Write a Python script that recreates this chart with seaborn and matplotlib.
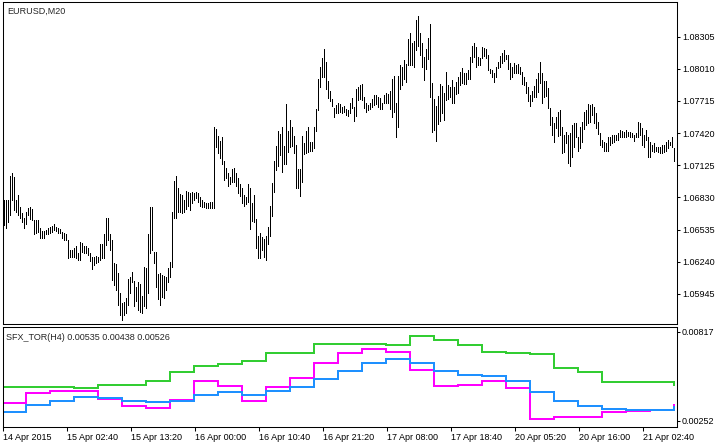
import numpy as np
import pandas as pd
import matplotlib
matplotlib.use('Agg')
import matplotlib.pyplot as plt
import seaborn as sns

sns.set_style('white')
plt.rcParams['font.family'] = ['Liberation Sans', 'DejaVu Sans']

# EURUSD M20 bars (high / low)
highs = [
    1.0681, 1.0681, 1.0681, 1.0703, 1.0705, 1.0702, 1.0681, 1.0685, 1.0674, 1.0669,
    1.0664, 1.0670, 1.0673, 1.0674, 1.0672, 1.0662, 1.0662, 1.0662, 1.0655, 1.0652,
    1.0652, 1.0653, 1.0655, 1.0656, 1.0657, 1.0659, 1.0656, 1.0655, 1.0654, 1.0651,
    1.0650, 1.0649, 1.0644, 1.0635, 1.0635, 1.0637, 1.0638, 1.0632, 1.0642, 1.0641,
    1.0638, 1.0638, 1.0637, 1.0632, 1.0628, 1.0628, 1.0629, 1.0628, 1.0640, 1.0640,
    1.0649, 1.0664, 1.0664, 1.0649, 1.0644, 1.0623, 1.0622, 1.0614, 1.0595, 1.0586,
    1.0587, 1.0591, 1.0608, 1.0610, 1.0615, 1.0606, 1.0601, 1.0605, 1.0604, 1.0593,
    1.0619, 1.0618, 1.0649, 1.0674, 1.0674, 1.0633, 1.0633, 1.0613, 1.0614, 1.0612,
    1.0611, 1.0610, 1.0618, 1.0624, 1.0670, 1.0698, 1.0703, 1.0692, 1.0686, 1.0685,
    1.0681, 1.0689, 1.0688, 1.0687, 1.0688, 1.0687, 1.0688, 1.0687, 1.0683, 1.0681,
    1.0679, 1.0678, 1.0678, 1.0679, 1.0679, 1.0748, 1.0746, 1.0739, 1.0735, 1.0738,
    1.0716, 1.0710, 1.0705, 1.0702, 1.0709, 1.0710, 1.0705, 1.0701, 1.0695, 1.0692,
    1.0685, 1.0683, 1.0695, 1.0692, 1.0678, 1.0685, 1.0663, 1.0648, 1.0650, 1.0647,
    1.0645, 1.0648, 1.0656, 1.0675, 1.0696, 1.0716, 1.0730, 1.0744, 1.0741, 1.0748,
    1.0730, 1.0769, 1.0744, 1.0754, 1.0748, 1.0739, 1.0731, 1.0709, 1.0709, 1.0739,
    1.0733, 1.0744, 1.0748, 1.0734, 1.0734, 1.0748, 1.0764, 1.0792, 1.0803, 1.0811,
    1.0819, 1.0807, 1.0790, 1.0781, 1.0773, 1.0765, 1.0768, 1.0770, 1.0769, 1.0766,
    1.0767, 1.0764, 1.0763, 1.0770, 1.0774, 1.0766, 1.0782, 1.0784, 1.0786, 1.0787,
    1.0775, 1.0770, 1.0768, 1.0770, 1.0773, 1.0777, 1.0777, 1.0775, 1.0774, 1.0770,
    1.0777, 1.0779, 1.0778, 1.0781, 1.0792, 1.0794, 1.0770, 1.0794, 1.0804, 1.0803,
    1.0809, 1.0805, 1.0828, 1.0834, 1.0825, 1.0826, 1.0846, 1.0849, 1.0834, 1.0825,
    1.0812, 1.0819, 1.0829, 1.0842, 1.0788, 1.0773, 1.0767, 1.0776, 1.0787, 1.0785,
    1.0779, 1.0798, 1.0786, 1.0784, 1.0791, 1.0784, 1.0789, 1.0793, 1.0798, 1.0802,
    1.0797, 1.0797, 1.0800, 1.0812, 1.0822, 1.0825, 1.0821, 1.0812, 1.0811, 1.0821,
    1.0820, 1.0819, 1.0814, 1.0801, 1.0800, 1.0797, 1.0803, 1.0807, 1.0813, 1.0815,
    1.0818, 1.0814, 1.0814, 1.0806, 1.0803, 1.0806, 1.0804, 1.0805, 1.0803, 1.0798,
    1.0793, 1.0789, 1.0784, 1.0777, 1.0781, 1.0785, 1.0792, 1.0797, 1.0807, 1.0797,
    1.0790, 1.0790, 1.0783, 1.0765, 1.0757, 1.0751, 1.0757, 1.0761, 1.0763, 1.0748,
    1.0740, 1.0743, 1.0740, 1.0742, 1.0749, 1.0751, 1.0751, 1.0738, 1.0748, 1.0752,
    1.0761, 1.0763, 1.0769, 1.0768, 1.0769, 1.0766, 1.0760, 1.0752, 1.0742, 1.0736,
    1.0734, 1.0733, 1.0738, 1.0738, 1.0740, 1.0740, 1.0740, 1.0742, 1.0745, 1.0744,
    1.0743, 1.0745, 1.0743, 1.0743, 1.0742, 1.0740, 1.0742, 1.0752, 1.0751, 1.0747,
    1.0740, 1.0745, 1.0738, 1.0734, 1.0731, 1.0733, 1.0729, 1.0729, 1.0729, 1.0731,
    1.0731, 1.0734, 1.0736, 1.0734, 1.0738, 1.0728,
]
lows = [
    1.0658, 1.0655, 1.0660, 1.0667, 1.0681, 1.0671, 1.0670, 1.0667, 1.0664, 1.0660,
    1.0655, 1.0659, 1.0667, 1.0663, 1.0662, 1.0649, 1.0650, 1.0651, 1.0646, 1.0646,
    1.0646, 1.0649, 1.0649, 1.0650, 1.0651, 1.0653, 1.0652, 1.0650, 1.0650, 1.0646,
    1.0644, 1.0644, 1.0627, 1.0628, 1.0628, 1.0628, 1.0627, 1.0626, 1.0626, 1.0633,
    1.0632, 1.0632, 1.0630, 1.0625, 1.0617, 1.0621, 1.0623, 1.0624, 1.0626, 1.0627,
    1.0627, 1.0639, 1.0644, 1.0635, 1.0607, 1.0603, 1.0598, 1.0584, 1.0575, 1.0571,
    1.0575, 1.0577, 1.0584, 1.0595, 1.0605, 1.0583, 1.0588, 1.0580, 1.0578, 1.0577,
    1.0583, 1.0582, 1.0595, 1.0632, 1.0635, 1.0623, 1.0601, 1.0590, 1.0584, 1.0592,
    1.0591, 1.0598, 1.0605, 1.0610, 1.0619, 1.0664, 1.0664, 1.0670, 1.0670, 1.0669,
    1.0670, 1.0672, 1.0675, 1.0671, 1.0678, 1.0681, 1.0682, 1.0679, 1.0675, 1.0674,
    1.0674, 1.0673, 1.0673, 1.0673, 1.0673, 1.0673, 1.0729, 1.0724, 1.0719, 1.0714,
    1.0699, 1.0701, 1.0693, 1.0695, 1.0697, 1.0697, 1.0693, 1.0687, 1.0684, 1.0678,
    1.0675, 1.0677, 1.0679, 1.0654, 1.0661, 1.0660, 1.0637, 1.0627, 1.0627, 1.0635,
    1.0628, 1.0626, 1.0640, 1.0648, 1.0666, 1.0688, 1.0708, 1.0712, 1.0722, 1.0706,
    1.0714, 1.0714, 1.0725, 1.0729, 1.0730, 1.0724, 1.0692, 1.0692, 1.0684, 1.0697,
    1.0723, 1.0724, 1.0725, 1.0726, 1.0726, 1.0728, 1.0744, 1.0763, 1.0784, 1.0793,
    1.0793, 1.0782, 1.0774, 1.0771, 1.0767, 1.0757, 1.0760, 1.0760, 1.0761, 1.0760,
    1.0761, 1.0759, 1.0758, 1.0760, 1.0765, 1.0753, 1.0758, 1.0772, 1.0773, 1.0772,
    1.0765, 1.0761, 1.0763, 1.0764, 1.0766, 1.0768, 1.0769, 1.0766, 1.0764, 1.0764,
    1.0770, 1.0770, 1.0770, 1.0764, 1.0757, 1.0761, 1.0738, 1.0748, 1.0782, 1.0786,
    1.0792, 1.0789, 1.0804, 1.0804, 1.0804, 1.0803, 1.0818, 1.0822, 1.0814, 1.0803,
    1.0791, 1.0801, 1.0810, 1.0775, 1.0743, 1.0745, 1.0735, 1.0750, 1.0753, 1.0760,
    1.0754, 1.0772, 1.0773, 1.0775, 1.0770, 1.0770, 1.0778, 1.0779, 1.0786, 1.0788,
    1.0787, 1.0787, 1.0792, 1.0792, 1.0807, 1.0812, 1.0803, 1.0804, 1.0804, 1.0811,
    1.0813, 1.0811, 1.0800, 1.0797, 1.0793, 1.0789, 1.0793, 1.0802, 1.0803, 1.0806,
    1.0808, 1.0810, 1.0801, 1.0792, 1.0793, 1.0797, 1.0797, 1.0797, 1.0796, 1.0787,
    1.0786, 1.0779, 1.0771, 1.0767, 1.0771, 1.0775, 1.0775, 1.0780, 1.0788, 1.0770,
    1.0775, 1.0776, 1.0765, 1.0749, 1.0740, 1.0734, 1.0747, 1.0739, 1.0740, 1.0724,
    1.0725, 1.0733, 1.0715, 1.0712, 1.0720, 1.0729, 1.0738, 1.0726, 1.0728, 1.0734,
    1.0746, 1.0749, 1.0751, 1.0752, 1.0759, 1.0751, 1.0747, 1.0741, 1.0731, 1.0729,
    1.0726, 1.0726, 1.0726, 1.0731, 1.0733, 1.0734, 1.0736, 1.0736, 1.0738, 1.0738,
    1.0738, 1.0738, 1.0739, 1.0738, 1.0738, 1.0735, 1.0738, 1.0738, 1.0740, 1.0731,
    1.0729, 1.0736, 1.0720, 1.0720, 1.0726, 1.0725, 1.0726, 1.0725, 1.0724, 1.0724,
    1.0725, 1.0726, 1.0728, 1.0731, 1.0729, 1.0716,
]

# SFX_TOR(H4) buffers, one value per H4 bar
sfx_green = [0.00470, 0.00470, 0.00470, 0.00459, 0.00481, 0.00481, 0.00506, 0.00565,
             0.00603, 0.00616, 0.00635, 0.00682, 0.00682, 0.00739, 0.00739, 0.00741,
             0.00737, 0.00794, 0.00768, 0.00735, 0.00692, 0.00686, 0.00675, 0.00591,
             0.00565, 0.00502, 0.00498, 0.00498, 0.00481]
sfx_magenta = [0.00368, 0.00432, 0.00445, 0.00445, 0.00392, 0.00347, 0.00337, 0.00385,
               0.00508, 0.00476, 0.00381, 0.00470, 0.00527, 0.00618, 0.00686, 0.00709,
               0.00692, 0.00576, 0.00474, 0.00481, 0.00506, 0.00464, 0.00265, 0.00275,
               0.00275, 0.00307, 0.00313, 0.00320, 0.00354]
sfx_blue = [0.00311, 0.00354, 0.00381, 0.00407, 0.00400, 0.00381, 0.00371, 0.00379,
            0.00417, 0.00438, 0.00417, 0.00443, 0.00470, 0.00517, 0.00572, 0.00618,
            0.00644, 0.00622, 0.00570, 0.00544, 0.00538, 0.00506, 0.00434, 0.00381,
            0.00349, 0.00328, 0.00322, 0.00322, 0.00339]

price_ticks = [1.05945, 1.06240, 1.06535, 1.06830, 1.07125, 1.07420, 1.07715, 1.08010, 1.08305]
sfx_ticks = [0.00252, 0.00817]
time_labels = ['14 Apr 2015', '15 Apr 02:40', '15 Apr 13:20', '16 Apr 00:00', '16 Apr 10:40',
               '16 Apr 21:20', '17 Apr 08:00', '17 Apr 18:40', '20 Apr 05:20', '20 Apr 16:00',
               '21 Apr 02:40']

W, H = 726, 444
fig = plt.figure(figsize=(W / 100, H / 100), dpi=100)
fig.patch.set_facecolor('white')
ax = fig.add_axes([2.5 / W, 1 - 324 / H, 674.5 / W, 322 / H])
ax2 = fig.add_axes([2.5 / W, 1 - 427 / H, 674.5 / W, 100 / H])

n = len(highs)
idx = np.arange(n)

# price bars, 1 px wide
ax.vlines(idx, lows, highs, colors='black', linewidth=0.6, antialiased=False)

# indicator, H4 value repeated over its M20 bars
h4 = (idx + 1) // 12
names = ['green', 'magenta', 'blue']
df = pd.DataFrame({
    'bar': np.tile(idx, 3),
    'value': np.concatenate([np.array(s)[h4] for s in (sfx_green, sfx_magenta, sfx_blue)]),
    'line': np.repeat(names, n),
})
sns.lineplot(data=df, x='bar', y='value', hue='line', hue_order=names,
             palette={'green': '#32CD32', 'magenta': '#FF00FF', 'blue': '#1E90FF'},
             drawstyle='steps-post', linewidth=1.4, estimator=None, legend=False,
             antialiased=False, ax=ax2)

for a in (ax, ax2):
    a.set_xlim(-0.75, 336.5)
    a.set_facecolor('white')
    for s in a.spines.values():
        s.set_color('black')
        s.set_linewidth(0.75)
    a.set_xlabel('')
    a.set_ylabel('')
    a.yaxis.tick_right()
    a.tick_params(axis='y', direction='out', length=2.5, width=0.75, pad=1,
                  labelsize=6.5, colors='black', right=True, left=False)

ax.set_ylim(1.05669, 1.08622)
ax.set_yticks(price_ticks)
ax.set_yticklabels([f'{v:.5f}' for v in price_ticks])
ax.set_xticks([])

ax2.set_ylim(0.002139, 0.008487)
ax2.set_yticks(sfx_ticks)
ax2.set_yticklabels([f'{v:.5f}' for v in sfx_ticks])
ax2.set_xticks([32 * j - 0.65 for j in range(len(time_labels))])
ax2.set_xticklabels(time_labels)
ax2.tick_params(axis='x', direction='out', length=3, width=0.75, pad=1.5,
                labelsize=6.5, colors='black', bottom=True)
for lab in ax2.get_xticklabels():
    lab.set_ha('left')

fig.text(7 / W, 1 - 13.5 / H, 'EURUSD,M20', fontsize=6.5, va='baseline')
fig.text(6 / W, 1 - 339.5 / H, 'SFX_TOR(H4) 0.00535 0.00438 0.00526', fontsize=6.5, va='baseline')

fig.savefig('out.png', dpi=100)
